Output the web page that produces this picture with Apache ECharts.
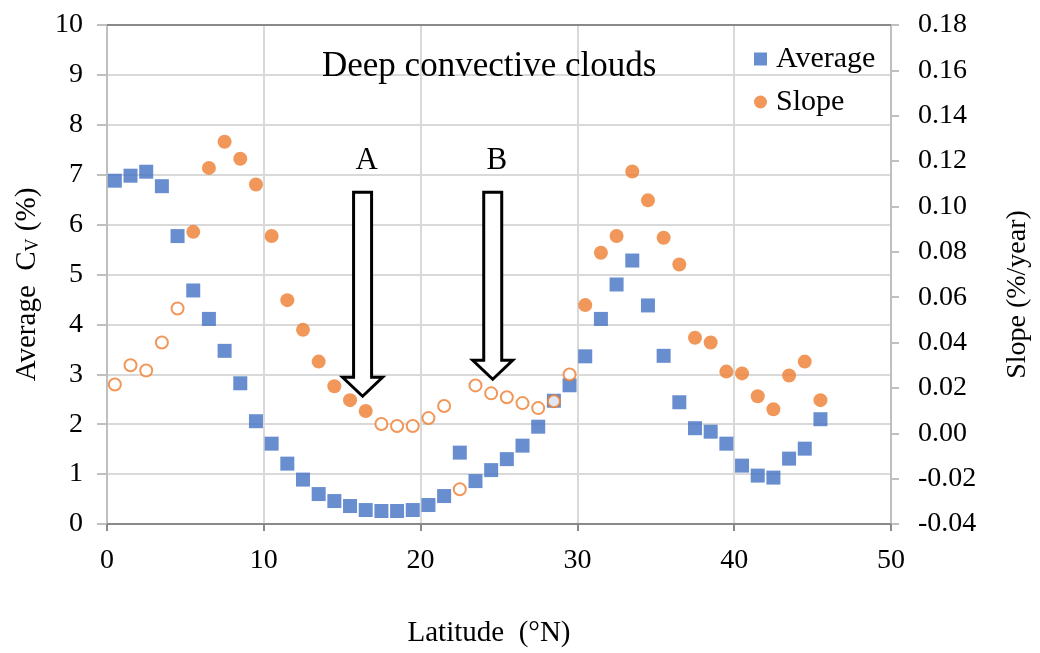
<!DOCTYPE html>
<html>
<head>
    <meta charset="utf-8">
    <title>Deep convective clouds</title>
    <style>
        html, body { margin: 0; padding: 0; background: #fff; }
        #main { width: 1040px; height: 653px; }
    </style>
</head>
<body>
    <div id="main"></div>
    <script src="https://cdn.jsdelivr.net/npm/echarts@6/dist/echarts.min.js"></script>
    <script>
    // latitude bins (°N)
    var latitudes = [0.5, 1.5, 2.5, 3.5, 4.5, 5.5, 6.5, 7.5, 8.5, 9.5,
        10.5, 11.5, 12.5, 13.5, 14.5, 15.5, 16.5, 17.5, 18.5, 19.5,
        20.5, 21.5, 22.5, 23.5, 24.5, 25.5, 26.5, 27.5, 28.5, 29.5,
        30.5, 31.5, 32.5, 33.5, 34.5, 35.5, 36.5, 37.5, 38.5, 39.5,
        40.5, 41.5, 42.5, 43.5, 44.5, 45.5];

    // average Cv (%)
    var averageCv = [6.88, 6.98, 7.06, 6.77, 5.77, 4.68, 4.11, 3.47, 2.82, 2.06,
        1.61, 1.21, 0.89, 0.60, 0.46, 0.36, 0.28, 0.26, 0.26, 0.28,
        0.38, 0.56, 1.43, 0.86, 1.08, 1.30, 1.57, 1.95, 2.47, 2.78,
        3.36, 4.11, 4.80, 5.28, 4.38, 3.37, 2.44, 1.92, 1.85, 1.61,
        1.17, 0.97, 0.93, 1.31, 1.51, 2.10];

    // slope (%/year)
    var slopeValues = [0.0215, 0.030, 0.0277, 0.040, 0.055, 0.0888, 0.117, 0.1285, 0.121, 0.1097,
        0.087, 0.0587, 0.0456, 0.0316, 0.0207, 0.0146, 0.0098, 0.0041, 0.0032, 0.0032,
        0.0067, 0.012, -0.0247, 0.0211, 0.0176, 0.0159, 0.0133, 0.0111, 0.0141, 0.0259,
        0.0565, 0.0796, 0.087, 0.1154, 0.1027, 0.0862, 0.0744, 0.0421, 0.040, 0.0272,
        0.0264, 0.0163, 0.0106, 0.0255, 0.0316, 0.0146];

    // 1 = drawn as open circle
    var slopeOpen = [1, 1, 1, 1, 1, 0, 0, 0, 0, 0,
        0, 0, 0, 0, 0, 0, 0, 1, 1, 1,
        1, 1, 1, 1, 1, 1, 1, 1, 1, 1,
        0, 0, 0, 0, 0, 0, 0, 0, 0, 0,
        0, 0, 0, 0, 0, 0];

    // arrow annotations: label, latitude, tip and tail on the left axis
    var arrowLabels = ['A', 'B'];
    var arrowLat = [16.3, 24.6];
    var arrowTip = [2.56, 2.90];
    var arrowTail = [6.65, 6.65];

    var xTicks = [0, 10, 20, 30, 40, 50];

    var blue = '#4472C4';
    var orange = '#ED7D31';
    var serif = '"Liberation Serif", "DejaVu Serif", serif';

    var avgData = latitudes.map(function (x, i) { return [x, averageCv[i]]; });
    var slopeData = latitudes.map(function (x, i) {
        if (slopeOpen[i]) {
            return {
                value: [x, slopeValues[i]],
                symbolSize: 12,
                itemStyle: { color: '#fff', borderColor: orange, borderWidth: 2 }
            };
        }
        return [x, slopeValues[i]];
    });

    var chart = echarts.init(document.getElementById('main'));

    var option = {
        animation: false,
        textStyle: { fontFamily: serif },
        title: {
            text: 'Deep convective clouds',
            left: 322,
            top: 49,
            padding: 0,
            textStyle: { fontFamily: serif, fontSize: 35, fontWeight: 'normal', color: '#000' }
        },
        legend: {
            orient: 'vertical',
            left: 754,
            top: 44,
            padding: 0,
            itemGap: 13,
            itemWidth: 13,
            itemHeight: 13,
            textStyle: { fontFamily: serif, fontSize: 30, color: '#000', padding: [0, 0, 0, 4] },
            data: [{ name: 'Average', icon: 'rect' }, { name: 'Slope', icon: 'circle' }]
        },
        grid: { left: 107, right: 146, top: 25, bottom: 121 },
        xAxis: [{
            type: 'value',
            min: xTicks[0],
            max: xTicks[xTicks.length - 1],
            interval: 10,
            name: 'Latitude  (°N)',
            nameLocation: 'middle',
            nameGap: 95,
            nameTextStyle: { fontFamily: serif, fontSize: 29, color: '#000', padding: [0, 20, 0, 0] },
            axisLine: { onZero: false, lineStyle: { color: '#898989', width: 2 } },
            axisTick: { show: true, length: 7, lineStyle: { color: '#898989', width: 2 } },
            axisLabel: { fontFamily: serif, fontSize: 28, color: '#000', margin: 23 },
            splitLine: { lineStyle: { color: '#d9d9d9', width: 2 } }
        }, {
            type: 'value',
            position: 'top',
            min: 0,
            max: 50,
            interval: 10,
            axisLine: { onZero: false, lineStyle: { color: '#898989', width: 2 } },
            axisTick: { show: false },
            axisLabel: { show: false },
            splitLine: { show: false }
        }],
        yAxis: [{
            type: 'value',
            min: 0,
            max: 10,
            interval: 1,
            name: 'Average  C{sub|V} (%)',
            nameLocation: 'middle',
            nameRotate: 90,
            nameGap: 65,
            nameTextStyle: {
                fontFamily: serif, fontSize: 29, color: '#000', padding: [0, 20, 0, 0],
                rich: { sub: { fontFamily: serif, fontSize: 18, color: '#000', verticalAlign: 'bottom', padding: [12, 0, 0, 0] } }
            },
            axisLine: { show: true, onZero: false, lineStyle: { color: '#bfbfbf', width: 2 } },
            axisTick: { show: true, length: 10, lineStyle: { color: '#bfbfbf', width: 2 } },
            axisLabel: { fontFamily: serif, fontSize: 28, color: '#000', margin: 24 },
            splitLine: { lineStyle: { color: '#d9d9d9', width: 2 } }
        }, {
            type: 'value',
            min: -0.04,
            max: 0.18,
            interval: 0.02,
            position: 'right',
            name: 'Slope (%/year)',
            nameLocation: 'middle',
            nameRotate: 90,
            nameGap: 113,
            nameTextStyle: { fontFamily: serif, fontSize: 28, color: '#000', padding: [0, 40, 0, 0] },
            axisLine: { show: true, onZero: false, lineStyle: { color: '#bfbfbf', width: 2 } },
            axisTick: { show: true, length: 8, lineStyle: { color: '#bfbfbf', width: 2 } },
            axisLabel: {
                fontFamily: serif, fontSize: 28, color: '#000', margin: 27,
                formatter: function (v) { return v.toFixed(2); }
            },
            splitLine: { show: false }
        }],
        series: [{
            name: 'Average',
            type: 'scatter',
            xAxisIndex: 0,
            yAxisIndex: 0,
            symbol: 'rect',
            symbolSize: 14,
            itemStyle: { color: blue },
            data: avgData,
            z: 2
        }, {
            name: 'Slope',
            type: 'scatter',
            xAxisIndex: 0,
            yAxisIndex: 1,
            symbol: 'circle',
            symbolSize: 14,
            itemStyle: { color: orange },
            data: slopeData,
            z: 3
        }]
    };
    chart.setOption(option);

    // block arrows placed through the axis scales
    var graphics = [];
    for (var i = 0; i < arrowLabels.length; i++) {
        var tip = chart.convertToPixel({ xAxisIndex: 0, yAxisIndex: 0 }, [arrowLat[i], arrowTip[i]]);
        var tail = chart.convertToPixel({ xAxisIndex: 0, yAxisIndex: 0 }, [arrowLat[i], arrowTail[i]]);
        var cx = tip[0];
        var headH = 19, halfShaft = 9, halfHead = 20;
        graphics.push({
            type: 'polygon',
            z: 10,
            shape: {
                points: [
                    [cx - halfShaft, tail[1]],
                    [cx + halfShaft, tail[1]],
                    [cx + halfShaft, tip[1] - headH],
                    [cx + halfHead, tip[1] - headH],
                    [cx, tip[1]],
                    [cx - halfHead, tip[1] - headH],
                    [cx - halfShaft, tip[1] - headH]
                ]
            },
            style: { fill: '#fff', stroke: '#000', lineWidth: 3, lineJoin: 'miter' }
        });
        graphics.push({
            type: 'text',
            z: 10,
            x: cx + 4,
            y: tail[1] - 31,
            style: {
                text: arrowLabels[i],
                fontFamily: serif,
                fontSize: 31,
                fill: '#000',
                align: 'center',
                verticalAlign: 'middle'
            }
        });
    }
    chart.setOption({ graphic: graphics });

    window.onresize = chart.resize;
    </script>
</body>
</html>
